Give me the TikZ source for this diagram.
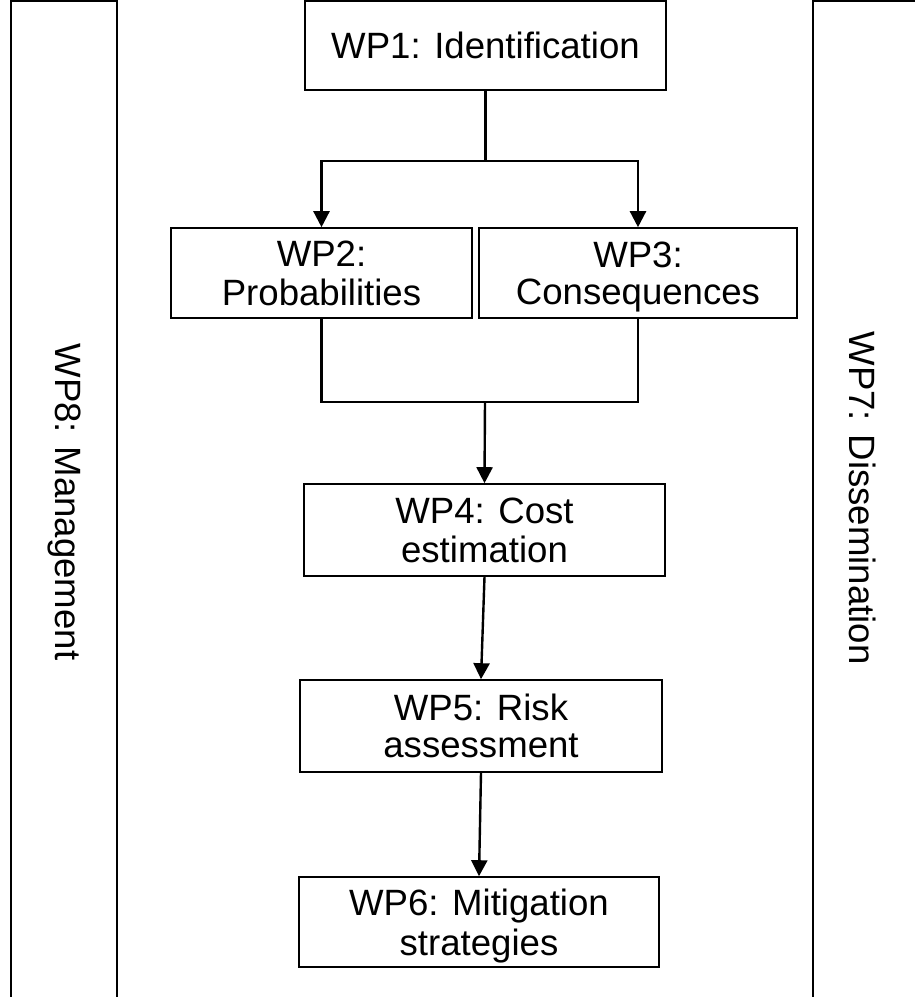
\documentclass[tikz,border=0pt]{standalone}
\usepackage{fontspec}
\setmainfont{Liberation Sans}
\usetikzlibrary{arrows.meta}
\begin{document}
\begin{tikzpicture}[x=0.5pt,y=-0.5pt,
    wpbox/.style={draw,line width=0.8pt,inner sep=0pt,align=center,text depth=0pt,
      font=\fontsize{18.3}{18.5}\selectfont},
    sidelabel/.style={rotate=-90,inner sep=0pt,font=\fontsize{18.3}{18.5}\selectfont},
    link/.style={line width=1.2pt},
    arr/.style={link,-{Triangle[width=8pt,length=8pt]}}]
    \useasboundingbox (0,0) rectangle (915,997);
    % side panels
    \draw[link] (11,997) -- (11,1) -- (117,1) -- (117,997);
    \node[sidelabel] (wp8) at (64,502) {WP8: Management};
    \draw[link] (813,997) -- (813,1) -- (919,1) -- (919,997);
    \node[sidelabel] (wp7) at (863,498) {WP7: Dissemination};
    % work packages
    \node[wpbox,minimum width=180.5pt,minimum height=44.5pt] (wp1) at (485.5,45.5) {\strut WP1: Identification};
    \node[wpbox,minimum width=150.5pt,minimum height=45pt] (wp2) at (321.5,273) {\strut WP2:\\Probabilities};
    \node[wpbox,minimum width=159pt,minimum height=45pt] (wp3) at (638,273) {\strut WP3:\\Consequences};
    \node[wpbox,minimum width=180.5pt,minimum height=46pt] (wp4) at (484.5,530) {\strut WP4: Cost\\estimation};
    \node[wpbox,minimum width=181pt,minimum height=46pt] (wp5) at (481,726) {\strut WP5: Risk\\assessment};
    \node[wpbox,minimum width=180pt,minimum height=45pt] (wp6) at (479,922) {\strut WP6: Mitigation\\strategies};
    % connectors
    \draw[arr] (wp1.south) -- ++(0,70) -| (wp2.north);
    \draw[arr] (wp1.south) -- ++(0,70) -| (wp3.north);
    \draw[link] (wp2.south) -- ++(0,83) -| (wp3.south);
    \coordinate (merge) at (485,401);
    \draw[arr] (merge) -- (wp4.north);
    \draw[arr] (wp4.south) -- (wp5.north);
    \draw[arr] (wp5.south) -- (wp6.north);
\end{tikzpicture}
\end{document}
